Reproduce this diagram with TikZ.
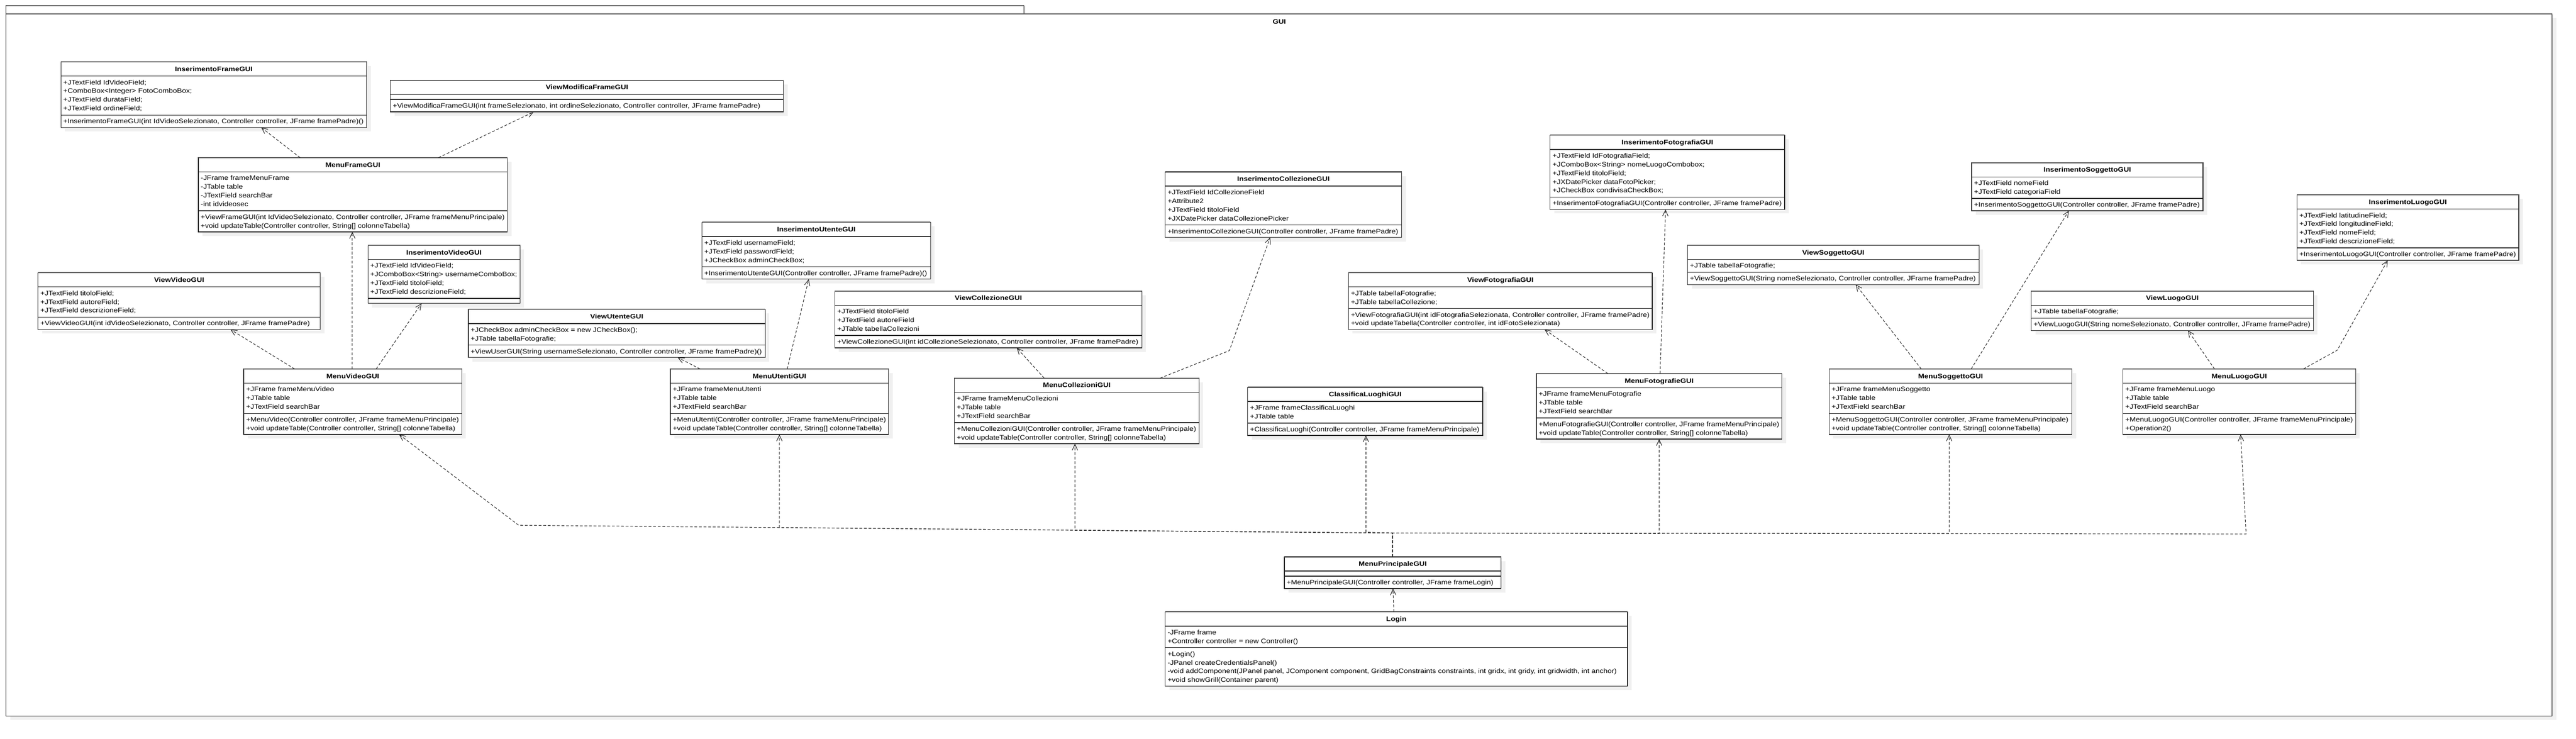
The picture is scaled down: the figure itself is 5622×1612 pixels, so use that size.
\documentclass[tikz,border=0pt]{standalone}
\usepackage{fontspec}
\setmainfont{Liberation Sans}[FakeStretch=1.15]
\usetikzlibrary{arrows.meta,calc}
\newcommand\rowfont{\fontsize{14.1pt}{19pt}\selectfont}
\newcommand\umlclass[9]{%
  \pgfmathsetmacro\clsA{ifthenelse(#6==0,11,#6*19+9)}%
  \pgfmathsetmacro\clsM{ifthenelse(#7==0,11,#7*19+8)}%
  \pgfmathsetmacro\clsT{31+\clsA+\clsM}%
  \fill[shadowbox] (#2+9,#3+9) rectangle ++(#4,\clsT);
  \node[classbox, minimum width=#4pt, minimum height=\clsT pt, anchor=north west] (#1) at (#2,#3) {};
  \draw[hdrline] (#1.north west) -- (#1.north east);
  \draw[secline] ($(#1.north west)+(0,31)$) -- ++(#4,0);
  \draw[secline] ($(#1.north west)+(0,31+\clsA)$) -- ++(#4,0);
  \node[titletext, anchor=base] (#1-t) at ($(#1.north west)+(#4/2,20.5)$) {#5};
  \if\relax\detokenize{#8}\relax\else
  \foreach \t [count=\i from 0] in {#8}
    \node[rowtext, anchor=base west] (#1-a\i) at ($(#1.north west)+(5,31+18.5+19*\i)$) {\t};
  \fi
  \if\relax\detokenize{#9}\relax\else
  \foreach \t [count=\i from 0] in {#9}
    \node[rowtext, anchor=base west] (#1-m\i) at ($(#1.north west)+(5,31+\clsA+18.5+19*\i)$) {\t};
  \fi
}
\begin{document}
\begin{tikzpicture}[x=1pt,y=-1pt,
  classbox/.style={draw=black!85, line width=1.5pt, fill=white, inner sep=0pt, outer sep=0pt},
  hdrline/.style={draw=black!65, line width=2.5pt},
  secline/.style={draw=black!85, line width=1.6pt},
  shadowbox/.style={fill=black!6},
  titletext/.style={font=\rowfont\bfseries, inner sep=0pt},
  rowtext/.style={font=\rowfont, inner sep=0pt},
  frame/.style={draw=black, line width=1.5pt, fill=white, inner sep=0pt, outer sep=0pt},
  dep/.style={draw=black!85, line width=1.2pt, dash pattern=on 6pt off 4pt,
    -{Straight Barb[length=13pt,width=12pt]}}]
\useasboundingbox (0,0) rectangle (5622,1612);
\fill[white] (0,0) rectangle (5622,1612);
% package frame
\fill[black!6] (22,39) rectangle (5579,1571);
\node[frame, minimum width=2222pt, minimum height=18pt, anchor=north west] (guitab) at (13,12) {};
\node[frame, minimum width=5557pt, minimum height=1532pt, anchor=north west] (guipkg) at (13,30) {};
\draw[hdrline] (guitab.north west) -- (guitab.north east);
\draw[hdrline] (guipkg.north west) -- (guipkg.north east);
\node[titletext, anchor=base] (guilabel) at (2792,52) {GUI};

% classes
\umlclass{IFG}{133}{135}{667}{InserimentoFrameGUI}{4}{1}
 {{+JTextField IdVideoField;},{+ComboBox<Integer> FotoComboBox;},{+JTextField durataField;},{+JTextField ordineField;}}
 {{+InserimentoFrameGUI(int IdVideoSelezionato, Controller controller, JFrame framePadre)()}}
\umlclass{VMFG}{852}{175}{858}{ViewModificaFrameGUI}{0}{1}
 {}
 {{+ViewModificaFrameGUI(int frameSelezionato, int ordineSelezionato, Controller controller, JFrame framePadre)}}
\umlclass{MFG}{433}{344}{674}{MenuFrameGUI}{4}{2}
 {{-JFrame frameMenuFrame},{-JTable table},{-JTextField searchBar},{-int idvideosec}}
 {{+ViewFrameGUI(int IdVideoSelezionato, Controller controller, JFrame frameMenuPrincipale)},{+void updateTable(Controller controller, String[] colonneTabella)}}
\umlclass{VVG}{83}{595}{616}{ViewVideoGUI}{3}{1}
 {{+JTextField titoloField;},{+JTextField autoreField;},{+JTextField descrizioneField;}}
 {{+ViewVideoGUI(int idVideoSelezionato, Controller controller, JFrame framePadre)}}
\umlclass{IVG}{803}{535}{332}{InserimentoVideoGUI}{4}{0}
 {{+JTextField IdVideoField;},{+JComboBox<String> usernameComboBox;},{+JTextField titoloField;},{+JTextField descrizioneField;}}
 {}
\umlclass{MVG}{532}{805}{476}{MenuVideoGUI}{3}{2}
 {{+JFrame frameMenuVideo},{+JTable table},{+JTextField searchBar}}
 {{+MenuVideo(Controller controller, JFrame frameMenuPrincipale)},{+void updateTable(Controller controller, String[] colonneTabella)}}
\umlclass{IUG}{1532}{485}{499}{InserimentoUtenteGUI}{3}{1}
 {{+JTextField usernameField;},{+JTextField passwordField;},{+JCheckBox adminCheckBox;}}
 {{+InserimentoUtenteGUI(Controller controller, JFrame framePadre)()}}
\umlclass{VUG}{1022}{675}{648}{ViewUtenteGUI}{2}{1}
 {{+JCheckBox adminCheckBox = new JCheckBox();},{+JTable tabellaFotografie;}}
 {{+ViewUserGUI(String usernameSelezionato, Controller controller, JFrame framePadre)()}}
\umlclass{MUG}{1463}{805}{476}{MenuUtentiGUI}{3}{2}
 {{+JFrame frameMenuUtenti},{+JTable table},{+JTextField searchBar}}
 {{+MenuUtenti(Controller controller, JFrame frameMenuPrincipale)},{+void updateTable(Controller controller, String[] colonneTabella)}}
\umlclass{VCG}{1822}{635}{670}{ViewCollezioneGUI}{3}{1}
 {{+JTextField titoloField},{+JTextField autoreField},{+JTable tabellaCollezioni}}
 {{+ViewCollezioneGUI(int idCollezioneSelezionato, Controller controller, JFrame framePadre)}}
\umlclass{ICG}{2543}{375}{516}{InserimentoCollezioneGUI}{4}{1}
 {{+JTextField IdCollezioneField},{+Attribute2},{+JTextField titoloField},{+JXDatePicker dataCollezionePicker}}
 {{+InserimentoCollezioneGUI(Controller controller, JFrame framePadre)}}
\umlclass{MCG}{2083}{825}{534}{MenuCollezioniGUI}{3}{2}
 {{+JFrame frameMenuCollezioni},{+JTable table},{+JTextField searchBar}}
 {{+MenuCollezioniGUI(Controller controller, JFrame frameMenuPrincipale)},{+void updateTable(Controller controller, String[] colonneTabella)}}
\umlclass{CLG}{2723}{845}{513}{ClassificaLuoghiGUI}{2}{1}
 {{+JFrame frameClassificaLuoghi},{+JTable table}}
 {{+ClassificaLuoghi(Controller controller, JFrame frameMenuPrincipale)}}
\umlclass{IFoG}{3383}{295}{512}{InserimentoFotografiaGUI}{5}{1}
 {{+JTextField IdFotografiaField;},{+JComboBox<String> nomeLuogoCombobox;},{+JTextField titoloField;},{+JXDatePicker dataFotoPicker;},{+JCheckBox condivisaCheckBox;}}
 {{+InserimentoFotografiaGUI(Controller controller, JFrame framePadre)}}
\umlclass{VFG}{2943}{595}{663}{ViewFotografiaGUI}{2}{2}
 {{+JTable tabellaFotografie;},{+JTable tabellaCollezione;}}
 {{+ViewFotografiaGUI(int idFotografiaSelezionata, Controller controller, JFrame framePadre)},{+void updateTabella(Controller controller, int idFotoSelezionata)}}
\umlclass{VSG}{3683}{535}{636}{ViewSoggettoGUI}{1}{1}
 {{+JTable tabellaFotografie;}}
 {{+ViewSoggettoGUI(String nomeSelezionato, Controller controller, JFrame framePadre)}}
\umlclass{MFoG}{3353}{815}{536}{MenuFotografieGUI}{3}{2}
 {{+JFrame frameMenuFotografie},{+JTable table},{+JTextField searchBar}}
 {{+MenuFotografieGUI(Controller controller, JFrame frameMenuPrincipale)},{+void updateTable(Controller controller, String[] colonneTabella)}}
\umlclass{MSG}{3992}{805}{530}{MenuSoggettoGUI}{3}{2}
 {{+JFrame frameMenuSoggetto},{+JTable table},{+JTextField searchBar}}
 {{+MenuSoggettoGUI(Controller controller, JFrame frameMenuPrincipale)},{+void updateTable(Controller controller, String[] colonneTabella)}}
\umlclass{ISG}{4303}{355}{505}{InserimentoSoggettoGUI}{2}{1}
 {{+JTextField nomeField},{+JTextField categoriaField}}
 {{+InserimentoSoggettoGUI(Controller controller, JFrame framePadre)}}
\umlclass{ILG}{5013}{425}{484}{InserimentoLuogoGUI}{4}{1}
 {{+JTextField latitudineField;},{+JTextField longitudineField;},{+JTextField nomeField;},{+JTextField descrizioneField;}}
 {{+InserimentoLuogoGUI(Controller controller, JFrame framePadre)}}
\umlclass{VLG}{4433}{635}{616}{ViewLuogoGUI}{1}{1}
 {{+JTable tabellaFotografie;}}
 {{+ViewLuogoGUI(String nomeSelezionato, Controller controller, JFrame framePadre)}}
\umlclass{MLG}{4633}{805}{508}{MenuLuogoGUI}{3}{2}
 {{+JFrame frameMenuLuogo},{+JTable table},{+JTextField searchBar}}
 {{+MenuLuogoGUI(Controller controller, JFrame frameMenuPrincipale)},{+Operation2()}}
\umlclass{MPG}{2803}{1215}{473}{MenuPrincipaleGUI}{0}{1}
 {}
 {{+MenuPrincipaleGUI(Controller controller, JFrame frameLogin)}}
\umlclass{LOG}{2543}{1335}{1009}{Login}{2}{4}
 {{-JFrame frame},{+Controller controller = new Controller()}}
 {{+Login()},{-JPanel createCredentialsPanel()},{-void addComponent(JPanel panel, JComponent component, GridBagConstraints constraints, int gridx, int gridy, int gridwidth, int anchor)},{+void showGrill(Container parent)}}

% connectors: frame group
\draw[dep] ($(MFG.north west)+(222,0)$) -- ($(IFG.south west)+(437,0)$);
\draw[dep] ($(MFG.north west)+(524,0)$) -- ($(VMFG.south west)+(313,0)$);
% video group
\draw[dep] ($(MVG.north west)+(237,0)$) -- ($(MFG.south west)+(336,0)$);
\draw[dep] ($(MVG.north west)+(111,0)$) -- ($(VVG.south west)+(420,0)$);
\draw[dep] ($(MVG.north west)+(289,0)$) -- ($(IVG.south west)+(117,0)$);
% utenti group
\draw[dep] ($(MUG.north west)+(65,0)$) -- ($(VUG.south west)+(457,0)$);
\draw[dep] ($(MUG.north west)+(255,0)$) -- ($(IUG.south west)+(233,0)$);
% collezioni group
\coordinate (bCol) at (2683,765);
\draw[dep] ($(MCG.north west)+(196,0)$) -- ($(VCG.south west)+(397,0)$);
\draw[dep] ($(MCG.north west)+(449,0)$) -- (bCol) -- ($(ICG.south west)+(229,0)$);
% fotografie group
\draw[dep] ($(MFoG.north west)+(156,0)$) -- ($(VFG.south west)+(428,0)$);
\draw[dep] ($(MFoG.north west)+(270,0)$) -- ($(IFoG.south west)+(252,0)$);
% soggetto group
\draw[dep] ($(MSG.north west)+(201,0)$) -- ($(VSG.south west)+(367,0)$);
\draw[dep] ($(MSG.north west)+(310,0)$) -- ($(ISG.south west)+(212,0)$);
% luogo group
\coordinate (bLuo) at (5101,764);
\draw[dep] ($(MLG.north west)+(200,0)$) -- ($(VLG.south west)+(342,0)$);
\draw[dep] ($(MLG.north west)+(394,0)$) -- (bLuo) -- ($(ILG.south west)+(198,0)$);
% login
\draw[dep] ($(LOG.north west)+(499,0)$) -- ($(MPG.south west)+(237,0)$);
% menu principale to menus
\coordinate (hub) at ($(MPG.north)+(0,-52)$);
\coordinate (bVid) at (1132,1146);
\coordinate (bUte) at (1701,1151);
\coordinate (bCo2) at (2346,1157);
\coordinate (bCla) at (2981,1161);
\coordinate (bFot) at (3621,1164);
\coordinate (bSog) at (4254,1164);
\coordinate (bLu2) at (4902,1165);
\draw[dep] (MPG.north) -- (hub) -- (bVid) -- ($(MVG.south west)+(339,0)$);
\draw[dep] (MPG.north) -- (hub) -- (bUte) -- ($(MUG.south west)+(238,0)$);
\draw[dep] (MPG.north) -- (hub) -- (bCo2) -- ($(MCG.south west)+(263,0)$);
\draw[dep] (MPG.north) -- (hub) -- (bCla) -- ($(CLG.south west)+(258,0)$);
\draw[dep] (MPG.north) -- (hub) -- (bFot) -- ($(MFoG.south west)+(268,0)$);
\draw[dep] (MPG.north) -- (hub) -- (bSog) -- ($(MSG.south west)+(262,0)$);
\draw[dep] (MPG.north) -- (hub) -- (bLu2) -- ($(MLG.south west)+(257,0)$);
\end{tikzpicture}
\end{document}
